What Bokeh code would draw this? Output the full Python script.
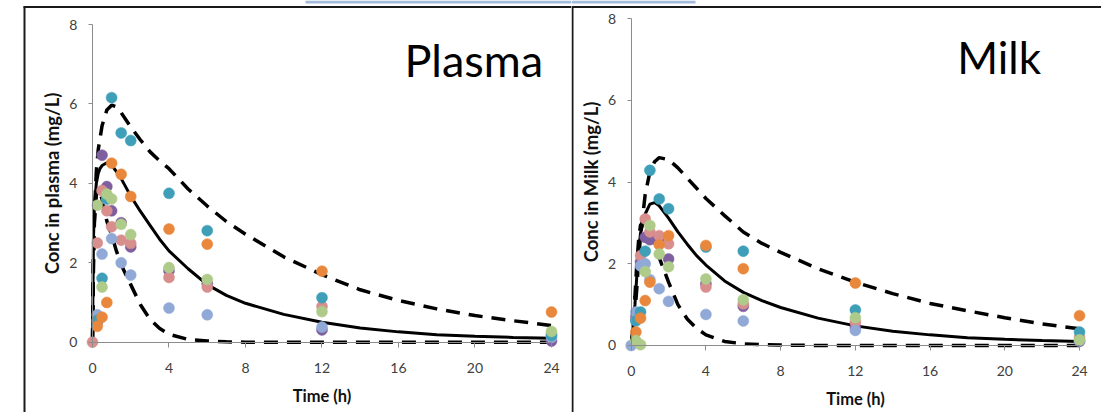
import math
from bokeh.plotting import figure
from bokeh.models import Range1d, FixedTicker, Label, BoxAnnotation
from bokeh.layouts import row
from bokeh.embed import file_html
from bokeh.resources import INLINE

NaN = float("nan")

# ---------------- data ----------------
times = [0, 0.25, 0.5, 0.75, 1, 1.5, 2, 4, 6, 12, 24]
x_ticks = [0, 4, 8, 12, 16, 20, 24]
y_ticks = [0, 2, 4, 6, 8]

# observed plasma concentrations (mg/L), one list per subject
plasma_purple = [NaN, 0.50, 4.71, 3.92, 3.31, 3.01, 2.40, 1.80, 1.48, 0.31, 0.03]
plasma_pink = [0.00, 2.50, 3.82, 3.31, 2.91, 2.57, 2.49, 1.63, 1.39, 0.90, 0.20]
plasma_lightblue = [NaN, 0.69, 2.22, 3.60, 2.61, 2.00, 1.69, 0.86, 0.69, 0.38, 0.12]
plasma_teal = [NaN, 0.55, 1.61, 3.62, 6.16, 5.27, 5.08, 3.75, 2.81, 1.12, 0.17]
plasma_orange = [NaN, 0.40, 0.63, 1.00, 4.51, 4.23, 3.67, 2.85, 2.47, 1.79, 0.76]
plasma_green = [NaN, 3.45, 1.39, 3.73, 3.61, 2.97, 2.71, 1.88, 1.58, 0.77, 0.27]

# observed milk concentrations (mg/L)
milk_purple = [NaN, 0.70, 2.05, 2.65, 2.59, 2.55, 2.12, 1.51, 0.96, 0.45, 0.10]
milk_pink = [NaN, 0.63, 2.20, 3.10, 2.78, 2.69, 2.49, 1.43, 1.02, 0.57, 0.20]
milk_lightblue = [0.00, 0.82, 1.95, 2.00, 1.61, 1.39, 1.08, 0.76, 0.60, 0.37, 0.12]
milk_teal = [NaN, 0.60, 0.82, 2.31, 4.29, 3.59, 3.35, 2.41, 2.31, 0.87, 0.33]
milk_orange = [NaN, 0.33, 0.67, 1.10, 1.55, 2.47, 2.69, 2.45, 1.88, 1.53, 0.73]
milk_green = [NaN, 0.12, 0.02, 1.81, 2.94, 2.24, 1.93, 1.63, 1.12, 0.68, 0.14]

# model prediction curves (median, 95th and 5th percentiles)
curve_t = [0, 0.05, 0.1, 0.2, 0.3, 0.4, 0.5, 0.75, 1, 1.25, 1.5, 2, 2.5, 3, 3.5, 4,
           5, 6, 7, 8, 10, 12, 14, 16, 18, 20, 22, 24]
plasma_median = [0, 2.6, 3.4, 4.0, 4.25, 4.38, 4.45, 4.52, 4.46, 4.3, 4.12, 3.68, 3.3, 2.95,
                 2.6, 2.3, 1.85, 1.45, 1.18, 0.98, 0.70, 0.50, 0.36, 0.26, 0.19, 0.15, 0.12, 0.10]
plasma_p95 = [0, 2.0, 3.2, 4.3, 4.85, 5.15, 5.45, 5.85, 5.97, 5.93, 5.78, 5.42, 5.1, 4.8,
              4.57, 4.37, 3.86, 3.43, 3.04, 2.72, 2.15, 1.70, 1.32, 1.05, 0.84, 0.67, 0.54, 0.42]
plasma_p5 = [0, 2.0, 3.0, 3.7, 3.85, 3.75, 3.6, 3.05, 2.7, 2.3, 1.95, 1.45, 0.95, 0.58,
             0.35, 0.2, 0.07, 0.03, 0.01, 0.0, 0.0, 0.0, 0.0, 0.0, 0.0, 0.0, 0.0, 0.0]
milk_median = [0, 0.2, 0.45, 1.0, 1.7, 2.35, 2.75, 3.22, 3.46, 3.5, 3.42, 3.12, 2.78, 2.48,
               2.2, 1.97, 1.58, 1.3, 1.1, 0.93, 0.67, 0.48, 0.35, 0.26, 0.19, 0.15, 0.12, 0.10]
milk_p95 = [0, 0.15, 0.35, 0.8, 1.4, 2.1, 2.7, 3.7, 4.25, 4.5, 4.6, 4.55, 4.35, 4.1,
            3.85, 3.6, 3.18, 2.78, 2.5, 2.28, 1.88, 1.55, 1.27, 1.03, 0.85, 0.68, 0.53, 0.41]
milk_p5 = [0, 0.2, 0.5, 1.2, 2.0, 2.6, 2.95, 3.05, 2.85, 2.5, 2.15, 1.55, 1.0, 0.65,
           0.42, 0.26, 0.1, 0.04, 0.02, 0.01, 0.0, 0.0, 0.0, 0.0, 0.0, 0.0, 0.0, 0.0]

colors = {
    "purple": "#7e5f9f",
    "pink": "#d98e8e",
    "lightblue": "#91a9d7",
    "teal": "#3f9fb8",
    "orange": "#e9883c",
    "green": "#aecb8a",
}

plasma_series = [("purple", plasma_purple), ("pink", plasma_pink), ("lightblue", plasma_lightblue),
                 ("teal", plasma_teal), ("orange", plasma_orange), ("green", plasma_green)]
milk_series = [("purple", milk_purple), ("pink", milk_pink), ("lightblue", milk_lightblue),
               ("teal", milk_teal), ("orange", milk_orange), ("green", milk_green)]

FONT = "Lato"


def canvas_box(left, right, top, bottom, color):
    return BoxAnnotation(left=left, right=right, top=top, bottom=bottom,
                         left_units="canvas", right_units="canvas",
                         top_units="canvas", bottom_units="canvas",
                         fill_color=color, fill_alpha=1, line_color=None, level="overlay")


def make_panel(width, x_range, y_range, ytitle, series, med, p95, p5,
               name, name_pos, name_size, frame_line_left, blue_box):
    # the frame fills the whole canvas; axes are placed at x=0 / y=0 via fixed_location
    p = figure(width=width, height=412, x_range=x_range, y_range=y_range,
               output_backend="svg", toolbar_location=None,
               min_border_left=0, min_border_right=0,
               min_border_top=0, min_border_bottom=0)
    p.grid.visible = False
    p.outline_line_color = None
    p.background_fill_color = "white"
    p.border_fill_color = "white"

    for ax, ticks, bnds in ((p.xaxis[0], x_ticks, (0, 24)), (p.yaxis[0], y_ticks, (0, 8))):
        ax.fixed_location = 0
        ax.bounds = bnds
        ax.ticker = FixedTicker(ticks=ticks, minor_ticks=[])
        ax.axis_line_color = "#8c8c8c"
        ax.axis_line_width = 1
        ax.major_tick_line_color = "#8c8c8c"
        ax.major_tick_in = 0
        ax.minor_tick_line_color = None
        ax.major_label_text_font = FONT
        ax.major_label_text_font_size = "14px"
        ax.major_label_text_color = "#404040"
        ax.axis_label_text_font = FONT
        ax.axis_label_text_font_style = "bold"
        ax.axis_label_text_color = "#111111"
    p.xaxis.major_tick_out = 5
    p.xaxis.major_label_standoff = 16
    p.xaxis.axis_label = "Time (h)"
    p.xaxis.axis_label_text_font_size = "16.5px"
    p.xaxis.axis_label_standoff = 9
    p.yaxis.major_tick_out = 4
    p.yaxis.major_label_standoff = 11
    p.yaxis.axis_label = ytitle
    p.yaxis.axis_label_text_font_size = "18.5px"
    p.yaxis.axis_label_standoff = 3

    # prediction curves
    p.line(curve_t, p95, line_color="black", line_width=3.5, line_dash="14 9")
    p.line(curve_t, p5, line_color="black", line_width=3.5, line_dash="14 9")
    p.line(curve_t, med, line_color="black", line_width=3)

    # observations
    for key, vals in series:
        p.scatter(times, vals, size=11, fill_color=colors[key], line_color=colors[key],
                  line_width=0.5)

    p.add_layout(Label(x=name_pos[0], y=name_pos[1], text=name, text_font=FONT,
                       text_font_size=name_size, text_color="black",
                       text_align="left", text_baseline="alphabetic"))

    # chart-area border lines (left edge and top edge) and the strip at the very top
    p.add_layout(canvas_box(frame_line_left, frame_line_left + 2, 6, 412, "#1a1a1a"))
    p.add_layout(canvas_box(frame_line_left, width, 5.5, 7.5, "#1a1a1a"))
    p.add_layout(canvas_box(blue_box[0], blue_box[1], 0, 3, "#a3bcdb"))
    return p


# plasma panel: x=0 at 92 px, 19.125 px per h; y=0 at 341.7 px, 39.7 px per mg/L
p1 = make_panel(571, Range1d(-4.810, 25.046), Range1d(-1.771, 8.607),
                "Conc in plasma (mg/L)", plasma_series, plasma_median, plasma_p95, plasma_p5,
                "Plasma", (16.31, 7.10), "45px", 23, (305, 571))

# milk panel: x=0 at 59.7 px, 18.68 px per h; y=0 at 345 px, 40.84 px per mg/L
p2 = make_panel(530, Range1d(-3.196, 25.177), Range1d(-1.641, 8.448),
                "Conc in Milk (mg/L)", milk_series, milk_median, milk_p95, milk_p5,
                "Milk", (17.45, 7.06), "44px", 0, (0, 124))

layout = row(p1, p2)

open("out.html", "w").write(file_html(layout, INLINE))
